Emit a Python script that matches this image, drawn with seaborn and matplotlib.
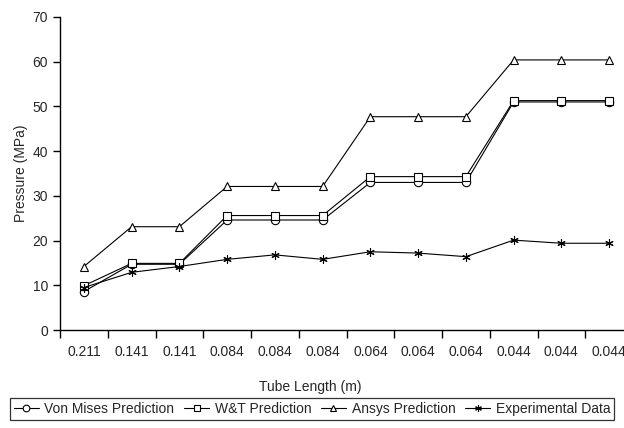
import matplotlib
matplotlib.use("Agg")
import matplotlib.pyplot as plt
import seaborn as sns
import pandas as pd

categories = ["0.211", "0.141", "0.141", "0.084", "0.084", "0.084",
              "0.064", "0.064", "0.064", "0.044", "0.044", "0.044"]
von_mises = [8.6, 14.7, 14.7, 24.6, 24.6, 24.6, 33.0, 33.0, 33.0, 51.0, 51.0, 51.0]
wt = [9.9, 14.9, 14.9, 25.6, 25.6, 25.6, 34.3, 34.3, 34.3, 51.3, 51.3, 51.3]
ansys = [14.2, 23.1, 23.1, 32.1, 32.1, 32.1, 47.7, 47.7, 47.7, 60.4, 60.4, 60.4]
experimental = [9.5, 12.9, 14.2, 15.8, 16.8, 15.8, 17.5, 17.2, 16.4, 20.1, 19.4, 19.4]

series_names = ["Von Mises Prediction", "W&T Prediction", "Ansys Prediction", "Experimental Data"]
series_vals = [von_mises, wt, ansys, experimental]

rows = []
for name, vals in zip(series_names, series_vals):
    for i, v in enumerate(vals):
        rows.append({"pos": i, "Pressure": v, "Series": name})
df = pd.DataFrame(rows)

sns.set_theme(style="white")
plt.rcParams["font.family"] = ["Liberation Sans", "DejaVu Sans"]

fig = plt.figure(figsize=(6.24, 4.28), dpi=100)
ax = fig.add_axes([60/624, 98/428, 573/624, 313/428])

markers = {"Von Mises Prediction": "o", "W&T Prediction": "s",
           "Ansys Prediction": "^", "Experimental Data": (6, 2, 0)}
for name in series_names:
    sub = df[df["Series"] == name]
    sns.lineplot(data=sub, x="pos", y="Pressure", ax=ax, color="black",
                 linewidth=0.8, marker=markers[name], markersize=6,
                 markerfacecolor="white", markeredgecolor="black",
                 markeredgewidth=0.8, label=name)

fs = 10
ax.set_xlim(-0.5, len(categories) - 0.5)
ax.set_ylim(0, 70)
ax.set_yticks(range(0, 71, 10))
ax.set_xticks(range(len(categories)))
ax.set_xticklabels(categories)
ax.set_xticks([i - 0.5 for i in range(len(categories) + 1)], minor=True)
ax.tick_params(axis="x", which="major", length=0, pad=11, labelsize=fs)
ax.tick_params(axis="x", which="minor", length=6, width=1, color="black", direction="out", bottom=True)
ax.tick_params(axis="y", length=5, width=1, color="black", direction="out", left=True, labelsize=fs)
for s in ["top", "right"]:
    ax.spines[s].set_visible(False)
for s in ["left", "bottom"]:
    ax.spines[s].set_color("black")
    ax.spines[s].set_linewidth(1)
ax.set_xlabel("Tube Length (m)", fontsize=fs)
ax.set_ylabel("Pressure (MPa)", fontsize=fs, labelpad=3)
ax.xaxis.set_label_coords(250/573, -0.16)
ax.grid(False)

ax.get_legend().remove()
h, l = ax.get_legend_handles_labels()
leg = fig.legend(h, l, loc="center", bbox_to_anchor=(312/624, 1 - 409/428), ncol=4,
                 frameon=True, fancybox=False, fontsize=fs, handlelength=1.8,
                 handletextpad=0.4, columnspacing=0.7, borderpad=0.3, edgecolor="black",
                 markerscale=0.8)
leg.get_frame().set_linewidth(0.9)

fig.savefig("out.png", dpi=100, facecolor="white")
